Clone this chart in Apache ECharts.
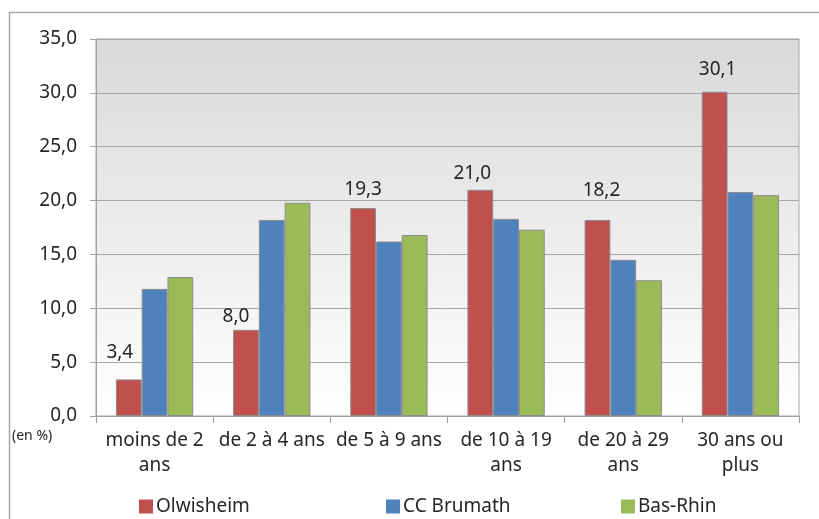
<!DOCTYPE html>
<html>
<head>
<meta charset="utf-8">
<script src="https://cdn.jsdelivr.net/npm/echarts@6/dist/echarts.min.js"></script>
<style>
  html, body { margin: 0; padding: 0; background: #ffffff; }
  #chart { width: 819px; height: 519px; }
</style>
</head>
<body>
<div id="chart"></div>
<script>
// Ancienneté d'emménagement des ménages (en %)
const categories = ['moins de 2\nans', 'de 2 à 4 ans', 'de 5 à 9 ans', 'de 10 à 19\nans', 'de 20 à 29\nans', '30 ans ou\nplus'];
const seriesNames = ['Olwisheim', 'CC Brumath', 'Bas-Rhin'];
const olwisheim = [3.4, 8.0, 19.3, 21.0, 18.2, 30.1];
const ccBrumath = [11.8, 18.2, 16.2, 18.3, 14.5, 20.8];
const basRhin = [12.9, 19.8, 16.8, 17.3, 12.6, 20.5];
const yTicks = { min: 0, max: 35, interval: 5 };

// hand-placed value labels: [dx, dy] nudges per category
const labelNudges = [[-9, -17], [-10, -3], [0, -9], [-8, -6], [4, -19], [3, -12]];

const FONT = 'Noto Sans';
const TEXT = '#262626';
const colors = ['#C0504D', '#4F81BD', '#9BBB59'];
const fmt = v => Number(v).toFixed(1).replace('.', ',');

const chart = echarts.init(document.getElementById('chart'), null, { renderer: 'canvas' });

const barStyle = (c) => ({ color: c, borderColor: '#8c8c8c', borderWidth: 1 });

const option = {
  animation: false,
  textStyle: { fontFamily: FONT, color: TEXT },
  grid: {
    left: 96, right: 20, top: 39, bottom: 103,
    containLabel: false,
    outerBoundsMode: 'none',
    show: true,
    borderColor: '#a6a6a6',
    borderWidth: 1,
    backgroundColor: {
      type: 'linear', x: 0, y: 0, x2: 0, y2: 1,
      colorStops: [{ offset: 0, color: '#d9d9d9' }, { offset: 1, color: '#ffffff' }]
    }
  },
  legend: seriesNames.map((name, i) => ({
    data: [{ name: name, icon: 'rect', itemStyle: { borderWidth: 0 } }],
    left: [134, 381, 616][i],
    top: 492,
    itemWidth: 14,
    itemHeight: 14,
    itemGap: 5,
    textStyle: { fontFamily: FONT, fontSize: 19, color: TEXT, padding: [0, 0, 0, -2] }
  })),
  xAxis: {
    type: 'category',
    data: categories,
    axisLine: { show: true, lineStyle: { color: '#a0a0a0', width: 1 } },
    axisTick: { show: true, alignWithLabel: false, length: 7, lineStyle: { color: '#a0a0a0' } },
    axisLabel: {
      interval: 0, margin: 12,
      fontFamily: FONT, fontSize: 19, color: TEXT, lineHeight: 25
    },
    splitLine: { show: false }
  },
  yAxis: {
    type: 'value',
    min: yTicks.min, max: yTicks.max, interval: yTicks.interval,
    axisLine: { show: true, lineStyle: { color: '#a0a0a0', width: 1 } },
    axisTick: { show: true, length: 6, lineStyle: { color: '#a0a0a0' } },
    axisLabel: { formatter: fmt, fontFamily: FONT, fontSize: 19, color: TEXT, margin: 19 },
    splitLine: { show: true, lineStyle: { color: '#a6a6a6', width: 1 } }
  },
  series: [
    {
      name: seriesNames[0], type: 'bar', barGap: 0, barCategoryGap: '34%',
      itemStyle: barStyle(colors[0]),
      label: {
        show: true, position: 'top', distance: 0,
        formatter: p => fmt(p.value),
        fontFamily: FONT, fontSize: 19, color: TEXT, lineHeight: 20
      },
      data: olwisheim.map((v, i) => ({ value: v, label: { offset: labelNudges[i] } }))
    },
    {
      name: seriesNames[1], type: 'bar', barGap: 0, barCategoryGap: '34%',
      itemStyle: barStyle(colors[1]),
      data: ccBrumath
    },
    {
      name: seriesNames[2], type: 'bar', barGap: 0, barCategoryGap: '34%',
      itemStyle: barStyle(colors[2]),
      data: basRhin
    }
  ],
  graphic: [
    {
      type: 'rect', silent: true, z: -10,
      shape: { x: 9.5, y: 12.5, width: 830, height: 530 },
      style: { fill: 'none', stroke: '#a6a6a6', lineWidth: 1.5 }
    },
    {
      type: 'text', left: 12, top: 429,
      style: { text: '(en %)', fontFamily: FONT, fontSize: 14, fill: TEXT }
    }
  ]
};

chart.setOption(option);
</script>
</body>
</html>
